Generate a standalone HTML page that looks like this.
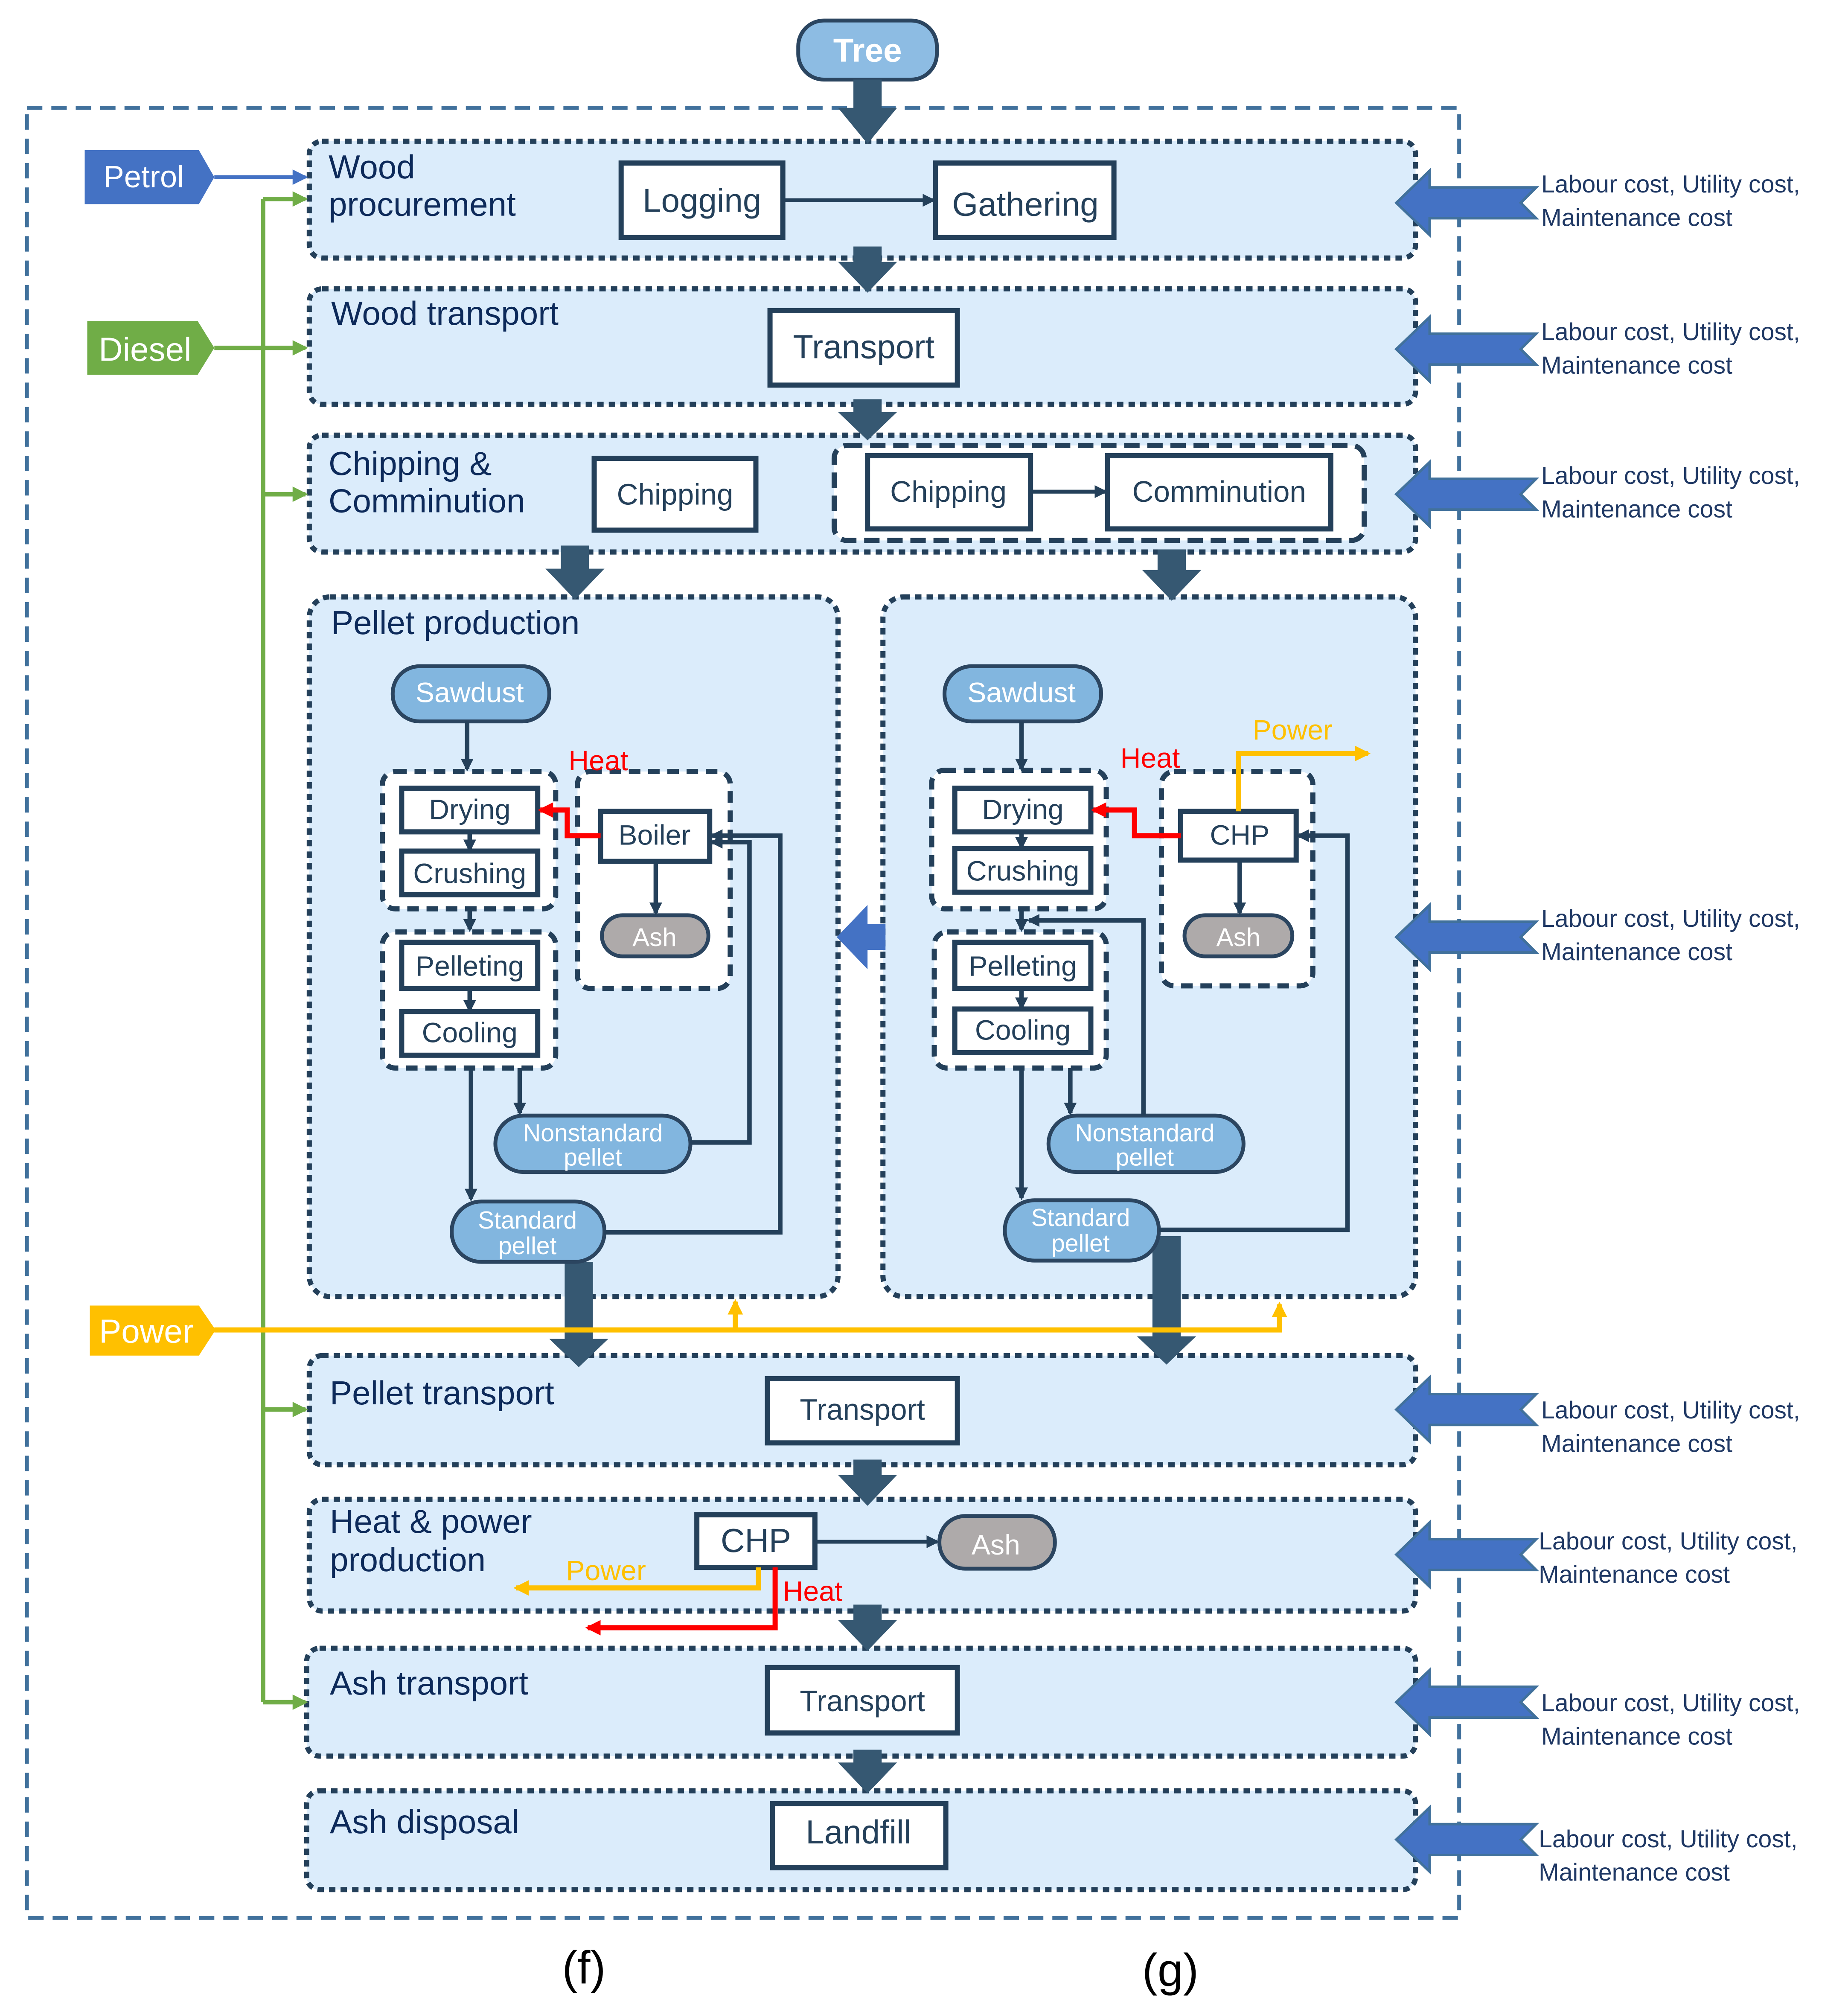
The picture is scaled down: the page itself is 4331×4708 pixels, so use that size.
<!DOCTYPE html>
<html><head><meta charset="utf-8"><style>
html,body{margin:0;padding:0;background:#fff;}
svg{display:block;}
text{font-family:"Liberation Sans",sans-serif;}
</style></head><body>
<svg width="4331" height="4708" viewBox="0 0 1440 1565" preserveAspectRatio="none" xmlns="http://www.w3.org/2000/svg">
<defs>
<marker id="ad" markerWidth="10" markerHeight="10" refX="8" refY="5" orient="auto" markerUnits="userSpaceOnUse"><path d="M0,0 L10,5 L0,10 z" fill="#24405a"/></marker>
<marker id="ar" markerWidth="12" markerHeight="12" refX="10" refY="6" orient="auto" markerUnits="userSpaceOnUse"><path d="M0,0 L12,6 L0,12 z" fill="#ff0000"/></marker>
<marker id="ay" markerWidth="12" markerHeight="12" refX="10" refY="6" orient="auto" markerUnits="userSpaceOnUse"><path d="M0,0 L12,6 L0,12 z" fill="#ffc000"/></marker>
<marker id="ag" markerWidth="12" markerHeight="12" refX="10" refY="6" orient="auto" markerUnits="userSpaceOnUse"><path d="M0,0 L12,6 L0,12 z" fill="#70ad47"/></marker>
<marker id="ab" markerWidth="12" markerHeight="12" refX="10" refY="6" orient="auto" markerUnits="userSpaceOnUse"><path d="M0,0 L12,6 L0,12 z" fill="#4472c4"/></marker>
</defs>

<rect x="21" y="84" width="1116" height="1410" fill="none" stroke="#41719c" stroke-width="3" stroke-dasharray="12,7"/>

<g fill="#dbecfb" stroke="#24405a" stroke-width="4" stroke-dasharray="5,4">
<rect x="241" y="110" width="862" height="91" rx="10"/>
<rect x="241" y="225" width="862" height="90" rx="10"/>
<rect x="241" y="339" width="862" height="91" rx="10"/>
<rect x="241" y="465" width="412" height="545" rx="16"/>
<rect x="688" y="465" width="415" height="545" rx="16"/>
<rect x="241" y="1056" width="862" height="85" rx="10"/>
<rect x="241" y="1168" width="862" height="87" rx="10"/>
<rect x="239" y="1284" width="864" height="84" rx="10"/>
<rect x="239" y="1395" width="864" height="77" rx="10"/>
</g>

<g font-size="26" fill="#0d2a5a">
<text x="256" y="139">Wood</text>
<text x="256" y="168">procurement</text>
<text x="258" y="253">Wood transport</text>
<text x="256" y="370">Chipping &amp;</text>
<text x="256" y="399">Comminution</text>
<text x="258" y="494">Pellet production</text>
<text x="257" y="1094">Pellet transport</text>
<text x="257" y="1194">Heat &amp; power</text>
<text x="257" y="1224">production</text>
<text x="257" y="1320">Ash transport</text>
<text x="257" y="1428">Ash disposal</text>
</g>

<rect x="622" y="16" width="108" height="46" rx="20" fill="#8dbce3" stroke="#2b4560" stroke-width="3"/>
<text x="676" y="48" font-size="26" font-weight="bold" fill="#fff" text-anchor="middle">Tree</text>

<g fill="#365872">
<path d="M665,62 h22 v22 h12 l-23,28 l-23,-28 h12z"/>
<path d="M665,192 h22 v12 h12 l-23,24 l-23,-24 h12z"/>
<path d="M665,311 h22 v10 h12 l-23,22 l-23,-22 h12z"/>
<path d="M437,425 h22 v18 h12 l-23,24 l-23,-24 h12z"/>
<path d="M902,428 h22 v16 h12 l-23,24 l-23,-24 h12z"/>
<path d="M440,983 h22 v60 h12 l-23,22 l-23,-22 h12z"/>
<path d="M898,963 h22 v78 h12 l-23,22 l-23,-22 h12z"/>
<path d="M665,1137 h22 v12 h12 l-23,24 l-23,-24 h12z"/>
<path d="M665,1250 h22 v12 h12 l-23,24 l-23,-24 h12z"/>
<path d="M665,1363 h22 v10 h12 l-23,24 l-23,-24 h12z"/>
</g>
<path d="M690,720 v20 h-14 v15 l-24,-25 l24,-25 v15z" fill="#4472c4"/>

<g fill="#4472c4" stroke="#41719c" stroke-width="2">
<path d="M1088,158 l26,-25 v13 h83 l-12,12 l12,12 h-83 v13z"/>
<path d="M1088,272 l26,-25 v13 h83 l-12,12 l12,12 h-83 v13z"/>
<path d="M1088,385 l26,-25 v13 h83 l-12,12 l12,12 h-83 v13z"/>
<path d="M1088,730 l26,-25 v13 h83 l-12,12 l12,12 h-83 v13z"/>
<path d="M1088,1098 l26,-25 v13 h83 l-12,12 l12,12 h-83 v13z"/>
<path d="M1088,1211 l26,-25 v13 h83 l-12,12 l12,12 h-83 v13z"/>
<path d="M1088,1326 l26,-25 v13 h83 l-12,12 l12,12 h-83 v13z"/>
<path d="M1088,1433 l26,-25 v13 h83 l-12,12 l12,12 h-83 v13z"/>
</g>
<g font-size="19" fill="#1f3864">
<text x="1201" y="150">Labour cost, Utility cost,</text><text x="1201" y="176">Maintenance cost</text>
<text x="1201" y="265">Labour cost, Utility cost,</text><text x="1201" y="291">Maintenance cost</text>
<text x="1201" y="377">Labour cost, Utility cost,</text><text x="1201" y="403">Maintenance cost</text>
<text x="1201" y="722">Labour cost, Utility cost,</text><text x="1201" y="748">Maintenance cost</text>
<text x="1201" y="1105">Labour cost, Utility cost,</text><text x="1201" y="1131">Maintenance cost</text>
<text x="1199" y="1207">Labour cost, Utility cost,</text><text x="1199" y="1233">Maintenance cost</text>
<text x="1201" y="1333">Labour cost, Utility cost,</text><text x="1201" y="1359">Maintenance cost</text>
<text x="1199" y="1439">Labour cost, Utility cost,</text><text x="1199" y="1465">Maintenance cost</text>
</g>

<path d="M66,117 h89 l12,21 l-12,21 h-89z" fill="#4472c4"/>
<text x="112" y="146" font-size="24" fill="#fff" text-anchor="middle">Petrol</text>
<line x1="167" y1="138" x2="238" y2="138" stroke="#4472c4" stroke-width="3" marker-end="url(#ab)"/>
<path d="M68,250 h86 l13,21 l-13,21 h-86z" fill="#70ad47"/>
<text x="113" y="281" font-size="26" fill="#fff" text-anchor="middle">Diesel</text>
<path d="M70,1017 h85 l13,19 l-13,20 h-85z" fill="#ffc000"/>
<text x="114" y="1046" font-size="26" fill="#fff" text-anchor="middle">Power</text>

<g stroke="#70ad47" stroke-width="3.5" fill="none">
<path d="M205,1326 V155"/>
<line x1="167" y1="271" x2="205" y2="271"/>
<line x1="205" y1="155" x2="238" y2="155" marker-end="url(#ag)"/>
<line x1="205" y1="271" x2="238" y2="271" marker-end="url(#ag)"/>
<line x1="205" y1="385" x2="238" y2="385" marker-end="url(#ag)"/>
<line x1="205" y1="1098" x2="238" y2="1098" marker-end="url(#ag)"/>
<line x1="205" y1="1326" x2="238" y2="1326" marker-end="url(#ag)"/>
</g>
<g stroke="#ffc000" stroke-width="4" fill="none">
<path d="M167,1036 H997 V1016" marker-end="url(#ay)"/>
<line x1="573" y1="1036" x2="573" y2="1014" marker-end="url(#ay)"/>
</g>

<g fill="#fff" stroke="#24405a" stroke-width="4">
<rect x="484" y="127" width="126" height="58"/>
<rect x="729" y="127" width="139" height="58"/>
<rect x="600" y="242" width="146" height="58"/>
<rect x="463" y="357" width="126" height="56"/>
<rect x="650" y="347" width="413" height="74" rx="10" stroke-dasharray="12,6" fill="#fff"/>
<rect x="676" y="355" width="127" height="57"/>
<rect x="863" y="355" width="174" height="57"/>
<rect x="598" y="1074" width="148" height="50"/>
<rect x="543" y="1180" width="92" height="41"/>
<rect x="598" y="1299" width="148" height="51"/>
<rect x="602" y="1405" width="135" height="50"/>
</g>
<g font-size="26" fill="#24405a" text-anchor="middle">
<text x="547" y="165">Logging</text>
<text x="799" y="168">Gathering</text>
<text x="673" y="279">Transport</text>
<text x="589" y="1209">CHP</text>
<text x="669" y="1436">Landfill</text>
</g>
<g font-size="23" fill="#24405a" text-anchor="middle">
<text x="526" y="393">Chipping</text>
<text x="739" y="391">Chipping</text>
<text x="950" y="391">Comminution</text>
<text x="672" y="1106">Transport</text>
<text x="672" y="1333">Transport</text>
</g>
<line x1="610" y1="156" x2="727" y2="156" stroke="#24405a" stroke-width="3" marker-end="url(#ad)"/>
<line x1="803" y1="383" x2="861" y2="383" stroke="#24405a" stroke-width="3" marker-end="url(#ad)"/>
<line x1="635" y1="1201" x2="730" y2="1201" stroke="#24405a" stroke-width="3" marker-end="url(#ad)"/>
<rect x="732" y="1181" width="90" height="41" rx="20" fill="#aeaaaa" stroke="#2b4560" stroke-width="3"/>
<text x="776" y="1211" font-size="22" fill="#fff" text-anchor="middle">Ash</text>
<path d="M591,1221 V1237 H402" stroke="#ffc000" stroke-width="4" fill="none" marker-end="url(#ay)"/>
<text x="441" y="1231" font-size="22" fill="#ffc000">Power</text>
<path d="M604,1221 V1268 H458" stroke="#ff0000" stroke-width="4" fill="none" marker-end="url(#ar)"/>
<text x="610" y="1247" font-size="22" fill="#ff0000">Heat</text>

<g>
<g fill="#fff" stroke="#24405a" stroke-width="4" stroke-dasharray="9,6">
<rect x="298" y="601" width="135" height="107" rx="10"/>
<rect x="298" y="726" width="135" height="106" rx="10"/>
<rect x="450" y="601" width="119" height="169" rx="10"/>
</g>
<g fill="#fff" stroke="#24405a" stroke-width="4">
<rect x="313" y="614" width="106" height="34"/>
<rect x="313" y="663" width="106" height="34"/>
<rect x="313" y="734" width="106" height="36"/>
<rect x="313" y="788" width="106" height="34"/>
<rect x="468" y="632" width="85" height="39"/>
</g>
<g font-size="22" fill="#24405a" text-anchor="middle">
<text x="366" y="638">Drying</text>
<text x="366" y="688">Crushing</text>
<text x="366" y="760">Pelleting</text>
<text x="366" y="812">Cooling</text>
<text x="510" y="658">Boiler</text>
</g>
<rect x="306" y="519" width="122" height="43" rx="21" fill="#82b6df" stroke="#2b4560" stroke-width="3"/>
<text x="366" y="547" font-size="22" fill="#fff" text-anchor="middle">Sawdust</text>
<rect x="469" y="713" width="83" height="32" rx="16" fill="#aeaaaa" stroke="#2b4560" stroke-width="3"/>
<text x="510" y="737" font-size="20" fill="#fff" text-anchor="middle">Ash</text>
<rect x="386" y="869" width="152" height="44" rx="22" fill="#82b6df" stroke="#2b4560" stroke-width="3"/>
<text x="462" y="889" font-size="19" fill="#fff" text-anchor="middle">Nonstandard</text>
<text x="462" y="908" font-size="19" fill="#fff" text-anchor="middle">pellet</text>
<rect x="352" y="936" width="119" height="47" rx="23" fill="#82b6df" stroke="#2b4560" stroke-width="3"/>
<text x="411" y="957" font-size="19" fill="#fff" text-anchor="middle">Standard</text>
<text x="411" y="977" font-size="19" fill="#fff" text-anchor="middle">pellet</text>
<g stroke="#24405a" stroke-width="3.5" fill="none" marker-end="url(#ad)">
<line x1="364" y1="562" x2="364" y2="599"/>
<line x1="366" y1="648" x2="366" y2="662"/>
<line x1="366" y1="708" x2="366" y2="724"/>
<line x1="366" y1="770" x2="366" y2="787"/>
<line x1="511" y1="671" x2="511" y2="711"/>
<line x1="367" y1="832" x2="367" y2="934"/>
<line x1="405" y1="832" x2="405" y2="867"/>
<path d="M538,890 H584 V656 H555"/>
<path d="M471,960 H608 V651 H555"/>
</g>
<path d="M468,651 H442 V631 H421" stroke="#ff0000" stroke-width="4" fill="none" marker-end="url(#ar)"/>
<text x="443" y="600" font-size="22" fill="#ff0000">Heat</text>
</g>

<g>
<g fill="#fff" stroke="#24405a" stroke-width="4" stroke-dasharray="9,6">
<rect x="726" y="600" width="136" height="108" rx="10"/>
<rect x="728" y="726" width="134" height="106" rx="10"/>
<rect x="905" y="601" width="118" height="167" rx="10"/>
</g>
<g fill="#fff" stroke="#24405a" stroke-width="4">
<rect x="744" y="614" width="106" height="34"/>
<rect x="744" y="661" width="106" height="34"/>
<rect x="744" y="734" width="106" height="36"/>
<rect x="744" y="786" width="106" height="34"/>
<rect x="920" y="632" width="90" height="38"/>
</g>
<g font-size="22" fill="#24405a" text-anchor="middle">
<text x="797" y="638">Drying</text>
<text x="797" y="686">Crushing</text>
<text x="797" y="760">Pelleting</text>
<text x="797" y="810">Cooling</text>
<text x="966" y="658">CHP</text>
</g>
<rect x="736" y="519" width="122" height="43" rx="21" fill="#82b6df" stroke="#2b4560" stroke-width="3"/>
<text x="796" y="547" font-size="22" fill="#fff" text-anchor="middle">Sawdust</text>
<rect x="923" y="713" width="84" height="32" rx="16" fill="#aeaaaa" stroke="#2b4560" stroke-width="3"/>
<text x="965" y="737" font-size="20" fill="#fff" text-anchor="middle">Ash</text>
<rect x="817" y="869" width="152" height="44" rx="22" fill="#82b6df" stroke="#2b4560" stroke-width="3"/>
<text x="892" y="889" font-size="19" fill="#fff" text-anchor="middle">Nonstandard</text>
<text x="892" y="908" font-size="19" fill="#fff" text-anchor="middle">pellet</text>
<rect x="783" y="935" width="120" height="47" rx="23" fill="#82b6df" stroke="#2b4560" stroke-width="3"/>
<text x="842" y="955" font-size="19" fill="#fff" text-anchor="middle">Standard</text>
<text x="842" y="975" font-size="19" fill="#fff" text-anchor="middle">pellet</text>
<g stroke="#24405a" stroke-width="3.5" fill="none" marker-end="url(#ad)">
<line x1="796" y1="562" x2="796" y2="599"/>
<line x1="796" y1="648" x2="796" y2="660"/>
<line x1="796" y1="708" x2="796" y2="724"/>
<line x1="796" y1="770" x2="796" y2="785"/>
<line x1="966" y1="670" x2="966" y2="711"/>
<line x1="796" y1="832" x2="796" y2="933"/>
<line x1="834" y1="832" x2="834" y2="867"/>
<path d="M891,869 V717 H802"/>
<path d="M903,958 H1050 V651 H1012"/>
</g>
<path d="M920,651 H884 V631 H852" stroke="#ff0000" stroke-width="4" fill="none" marker-end="url(#ar)"/>
<text x="873" y="598" font-size="22" fill="#ff0000">Heat</text>
<path d="M965,632 V587 H1066" stroke="#ffc000" stroke-width="4" fill="none" marker-end="url(#ay)"/>
<text x="976" y="576" font-size="22" fill="#ffc000">Power</text>
</g>

<text x="455" y="1545" font-size="36" fill="#000" text-anchor="middle">(f)</text>
<text x="912" y="1547" font-size="36" fill="#000" text-anchor="middle">(g)</text>
</svg>
</body></html>
